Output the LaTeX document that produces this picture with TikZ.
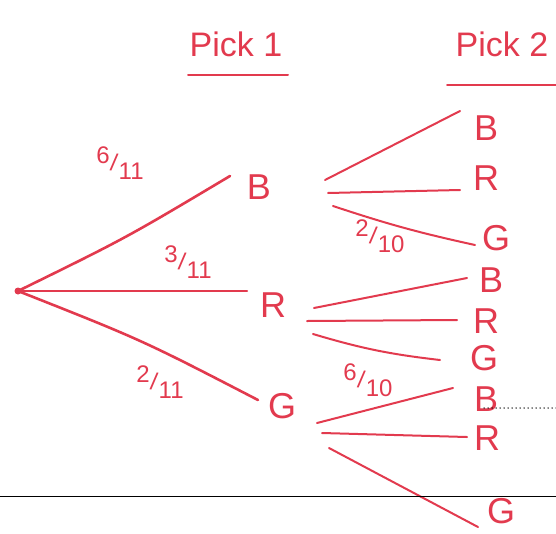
\documentclass[tikz,border=0pt]{standalone}
\usepackage{fontspec}
\setmainfont{Liberation Sans}
\definecolor{pen}{RGB}{226,58,78}
\newcommand{\hfr}[2]{\raisebox{0.55ex}{#1}\rotatebox{-8}{/}\raisebox{-0.7ex}{#2}}
\begin{document}
\begin{tikzpicture}[x=1pt,y=-1pt,
  branch/.style={draw=pen,line width=2pt,line cap=round},
  lbl/.style={text=pen,font=\fontsize{36}{38}\selectfont,inner sep=0pt},
  head/.style={text=pen,font=\fontsize{34}{36}\selectfont,inner sep=0pt},
  prob/.style={text=pen,font=\fontsize{24}{26}\selectfont,inner sep=0pt}]
\useasboundingbox (0,0) rectangle (556,533);
% headings
\node[head] (h1) at (236,44) {Pick 1};
\node[head] (h2) at (502,44) {Pick 2};
\coordinate (u1a) at (188,75); \coordinate (u1b) at (288,75);
\coordinate (u2a) at (447,85); \coordinate (u2b) at (556,85);
\draw[branch] (u1a) -- (u1b);
\draw[branch] (u2a) -- (u2b);
% root
\coordinate (root) at (18,291);
\fill[pen] (root) circle (3.5pt);
% first pick
\node[lbl] (B1) at (259,187) {B};
\node[lbl] (R1) at (273,305) {R};
\node[lbl] (G1) at (282,406) {G};
\coordinate (eB1) at (230,176);
\coordinate (eR1) at (247,291);
\coordinate (eG1) at (258,400);
\coordinate (cB1) at (126,238);
\coordinate (cG1) at (142,340);
\draw[branch,line width=2.6pt] (root) .. controls (cB1) .. (eB1);
\draw[branch,line width=2.4pt] (root) -- (eR1);
\draw[branch,line width=2.6pt] (root) .. controls (cG1) .. (eG1);
\node[prob] (p1) at (120,163) {\hfr{6}{11}};
\node[prob] (p2) at (188,262) {\hfr{3}{11}};
\node[prob] (p3) at (160,382) {\hfr{2}{11}};
% second pick after B
\node[lbl] (BB) at (486,128) {B};
\node[lbl] (BR) at (486,178) {R};
\node[lbl] (BG) at (496,238) {G};
\coordinate (sBB) at (325,180); \coordinate (eBB) at (460,111);
\coordinate (sBR) at (328,193); \coordinate (eBR) at (460,190);
\coordinate (sBG) at (333,206); \coordinate (eBG) at (475,245);
\draw[branch] (sBB) -- (eBB);
\draw[branch] (sBR) -- (eBR);
\draw[branch] (sBG) to[bend right=3] (eBG);
\node[prob] (p4) at (380,236) {\hfr{2}{10}};
% second pick after R
\node[lbl] (RB) at (491,280) {B};
\node[lbl] (RR) at (486,321) {R};
\node[lbl] (RG) at (484,358) {G};
\coordinate (sRB) at (314,308); \coordinate (eRB) at (467,278);
\coordinate (sRR) at (307,321); \coordinate (eRR) at (457,320);
\coordinate (sRG) at (313,334); \coordinate (eRG) at (440,360);
\draw[branch] (sRB) -- (eRB);
\draw[branch] (sRR) -- (eRR);
\draw[branch] (sRG) to[bend right=5] (eRG);
% second pick after G
\node[lbl] (GB) at (486,399) {B};
\node[lbl] (GR) at (487,438) {R};
\node[lbl] (GG) at (501,511) {G};
\coordinate (sGB) at (317,423); \coordinate (eGB) at (453,388);
\coordinate (sGR) at (322,433); \coordinate (eGR) at (467,437);
\coordinate (sGG) at (329,448); \coordinate (eGG) at (478,527);
\draw[branch] (sGB) -- (eGB);
\draw[branch] (sGR) -- (eGR);
\draw[branch] (sGG) -- (eGG);
\node[prob] (p5) at (368,380) {\hfr{6}{10}};
% black lines
\coordinate (d1) at (484,408); \coordinate (d2) at (556,408);
\draw[line width=1.5pt,line cap=round,dash pattern=on 0pt off 4pt] (d1) -- (d2);
\coordinate (k1) at (0,496); \coordinate (k2) at (556,496);
\draw[line width=1pt] (k1) -- (k2);
\end{tikzpicture}
\end{document}
